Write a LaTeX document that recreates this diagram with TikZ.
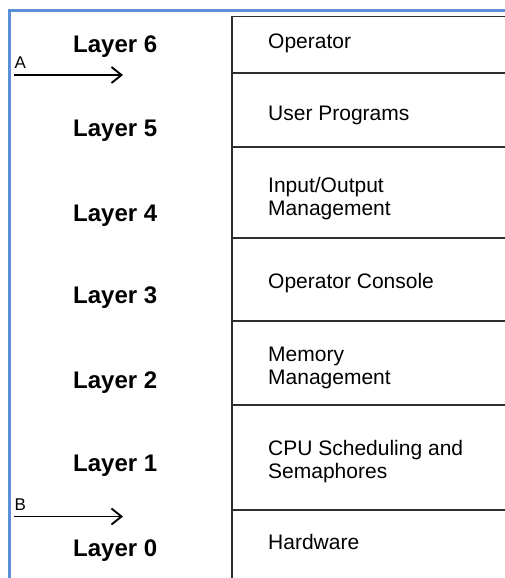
\documentclass[tikz,border=0pt]{standalone}
\usepackage{fontspec}
\setmainfont{Liberation Sans}
\usetikzlibrary{arrows.meta}
\definecolor{frameblue}{HTML}{5B8FD6}
\definecolor{rulegray}{HTML}{2E2E2E}
\begin{document}
\begin{tikzpicture}[x=1pt,y=-1pt,
  cell/.style={anchor=base west,inner sep=0pt,font=\fontsize{21}{23}\selectfont},
  layer/.style={anchor=base west,inner sep=0pt,font=\fontsize{24}{26}\selectfont\bfseries},
  marker/.style={anchor=base west,inner sep=0pt,font=\fontsize{17}{19}\selectfont},
  tablerule/.style={draw=rulegray,line width=1.7pt},
  pointer/.style={draw=black,line width=1.9pt,-{Straight Barb[length=10pt,width=16pt,line width=1.9pt]}}]
\useasboundingbox (0,0) rectangle (505,578);
\fill[white] (0,0) rectangle (505,578);
% blue frame
\draw[frameblue,line width=2.2pt] (9.5,578) -- (9.5,10.5) -- (505,10.5);
% table
\coordinate (tl) at (232,16.5);
\draw[tablerule] (505,16.5) -- (tl) -- (232,578);
\foreach \y in {73,147,238,321,405,510}
  \draw[tablerule] (232,\y) -- (505,\y);
% cell texts
\node[cell] (c6) at (268,48.5) {Operator};
\node[cell] (c5) at (268,120) {User Programs};
\node[cell] (c4a) at (268,192.5) {Input/Output};
\node[cell] (c4b) at (268,215.5) {Management};
\node[cell] (c3) at (268,288) {Operator Console};
\node[cell] (c2a) at (268,361) {Memory};
\node[cell] (c2b) at (268,384) {Management};
\node[cell] (c1a) at (268,455) {CPU Scheduling and};
\node[cell] (c1b) at (268,478) {Semaphores};
\node[cell] (c0) at (268,549.5) {Hardware};
% layer labels
\node[layer] (l6) at (73,52.5) {Layer 6};
\node[layer] (l5) at (73,136.5) {Layer 5};
\node[layer] (l4) at (73,221) {Layer 4};
\node[layer] (l3) at (73,303.5) {Layer 3};
\node[layer] (l2) at (73,388.5) {Layer 2};
\node[layer] (l1) at (73,471.5) {Layer 1};
\node[layer] (l0) at (73,556.5) {Layer 0};
% pointers
\node[marker] (A) at (14.5,68.5) {A};
\node[marker] (B) at (14.5,510) {B};
\coordinate (a1) at (14,75);
\coordinate (a2) at (123,75);
\coordinate (b1) at (14,516.5);
\coordinate (b2) at (123,516.5);
\draw[pointer] (a1) -- (a2);
\draw[pointer] (b1) -- (b2);
\end{tikzpicture}
\end{document}
